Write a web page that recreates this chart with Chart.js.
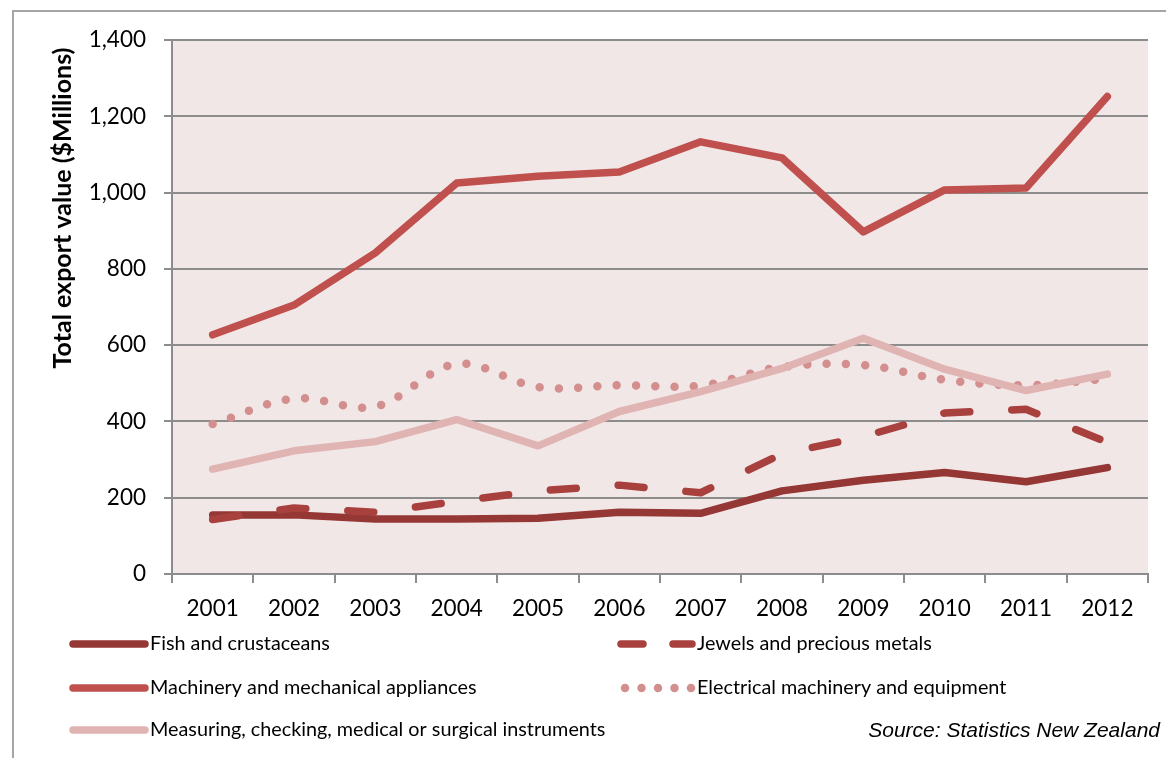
<!DOCTYPE html>
<html>
<head>
<meta charset="utf-8">
<script src="https://cdn.jsdelivr.net/npm/chart.js@4/dist/chart.umd.min.js"></script>
<style>
  body { margin: 0; background: #fff; }
  #frame { position: absolute; left: 12px; top: 10px; width: 1200px; height: 800px; border: 2px solid #a6a6a6; }
  #wrap { position: absolute; left: 0; top: 0; width: 1166px; height: 758px; }
</style>
</head>
<body>
<div id="frame"></div>
<div id="wrap"><canvas id="exportChart" width="1166" height="758"></canvas></div>
<script>
// NZ export values by product group, $ millions
var years = ['2001', '2002', '2003', '2004', '2005', '2006', '2007', '2008', '2009', '2010', '2011', '2012'];
var seriesNames = [
  'Fish and crustaceans',
  'Jewels and precious metals',
  'Machinery and mechanical appliances',
  'Electrical machinery and equipment',
  'Measuring, checking, medical or surgical instruments'
];
var fishValues = [155, 155, 144, 144, 146, 162, 159, 218, 246, 266, 242, 279];
var jewelValues = [143, 173, 162, 190, 218, 233, 213, 315, 360, 422, 432, 345];
var machineryValues = [627, 705, 842, 1025, 1043, 1054, 1133, 1091, 897, 1007, 1012, 1252];
var electricalValues = [393, 460, 439, 551, 490, 495, 494, 543, 548, 509, 495, 512];
var measuringValues = [275, 323, 347, 405, 336, 426, 478, 539, 618, 537, 481, 524];
var yTickStep = 200;
var yMax = 1400;

var gridGrey = '#8c8c8c';
var styles = [
  { color: '#953735', dash: [], tension: 0, width: 7.5 },
  { color: '#a8413e', dash: [26, 42], tension: 0, width: 7.5 },
  { color: '#c0504d', dash: [], tension: 0, width: 7.5 },
  { color: '#d38f8d', dash: [0, 19.3], tension: 0.35, width: 8.5 },
  { color: '#e0b4b3', dash: [], tension: 0, width: 7.5 }
];
var allValues = [fishValues, jewelValues, machineryValues, electricalValues, measuringValues];

// legend slots: [swatch start, swatch end, text x, y, dash used in the key]
var legendSlots = [
  [73, 145, 150, 644, []],
  [621, 692, 697, 644, [22, 30]],
  [73, 145, 150, 688, []],
  [625, 692, 697, 688, [0, 16.5]],
  [73, 145, 150, 730, []]
];

function buildDatasets() {
  var sets = [];
  for (var i = 0; i < allValues.length; i++) {
    sets.push({
      label: seriesNames[i],
      data: allValues[i],
      borderColor: styles[i].color,
      backgroundColor: styles[i].color,
      borderWidth: styles[i].width,
      borderDash: styles[i].dash,
      borderCapStyle: 'round',
      borderJoinStyle: 'round',
      tension: styles[i].tension,
      pointRadius: 0,
      fill: false,
      order: allValues.length - i
    });
  }
  return sets;
}

var chartDecor = {
  id: 'chartDecor',
  beforeDraw: function (chart) {
    var a = chart.chartArea;
    var ctx = chart.ctx;
    ctx.save();
    ctx.fillStyle = '#f2e7e7';
    ctx.fillRect(a.left, a.top, a.right - a.left, a.bottom - a.top);
    ctx.restore();
  },
  afterDraw: function (chart) {
    var ctx = chart.ctx;
    ctx.save();
    // vertical axis title
    ctx.translate(63, 208);
    ctx.rotate(-Math.PI / 2);
    ctx.fillStyle = '#000';
    ctx.font = 'bold 25px Lato';
    ctx.textAlign = 'center';
    ctx.textBaseline = 'middle';
    ctx.fillText('Total export value ($Millions)', 0, 0);
    ctx.restore();

    // legend keys
    for (var i = 0; i < legendSlots.length; i++) {
      var s = legendSlots[i];
      ctx.save();
      ctx.strokeStyle = styles[i].color;
      ctx.lineWidth = styles[i].width;
      ctx.lineCap = 'round';
      ctx.setLineDash(s[4]);
      ctx.beginPath();
      ctx.moveTo(s[0], s[3]);
      ctx.lineTo(s[1], s[3]);
      ctx.stroke();
      ctx.setLineDash([]);
      ctx.fillStyle = '#000';
      ctx.font = '19.8px Lato';
      ctx.textBaseline = 'middle';
      ctx.fillText(seriesNames[i], s[2], s[3]);
      ctx.restore();
    }

    ctx.save();
    ctx.fillStyle = '#000';
    ctx.font = 'italic 21px "Liberation Sans"';
    ctx.textAlign = 'right';
    ctx.textBaseline = 'middle';
    ctx.fillText('Source: Statistics New Zealand', 1160, 731);
    ctx.restore();
  }
};

function renderExportChart() {
  var ctx = document.getElementById('exportChart');
  new Chart(ctx, {
    type: 'line',
    data: {
      labels: years,
      datasets: buildDatasets()
    },
    options: {
      responsive: false,
      animation: false,
      layout: { padding: { top: 40, right: 18, left: 0, bottom: 0 } },
      plugins: {
        legend: { display: false },
        tooltip: { enabled: false }
      },
      scales: {
        x: {
          offset: true,
          afterFit: function (scale) { scale.height = 184; },
          grid: {
            offset: true,
            drawOnChartArea: false,
            drawTicks: true,
            tickLength: 9,
            color: gridGrey,
            lineWidth: 2
          },
          border: { color: gridGrey, width: 2 },
          ticks: {
            color: '#000',
            font: { family: 'Lato', size: 22.5 },
            padding: 12,
            maxRotation: 0
          }
        },
        y: {
          min: 0,
          max: yMax,
          afterFit: function (scale) { scale.width = 172; },
          grid: {
            color: gridGrey,
            lineWidth: 2,
            drawTicks: true,
            tickLength: 8
          },
          border: { color: gridGrey, width: 2 },
          ticks: {
            stepSize: yTickStep,
            color: '#000',
            font: { family: 'Lato', size: 22.5 },
            padding: 18,
            callback: function (v) { return v.toLocaleString('en-US'); }
          }
        }
      }
    },
    plugins: [chartDecor]
  });
}

renderExportChart();
</script>
</body>
</html>
